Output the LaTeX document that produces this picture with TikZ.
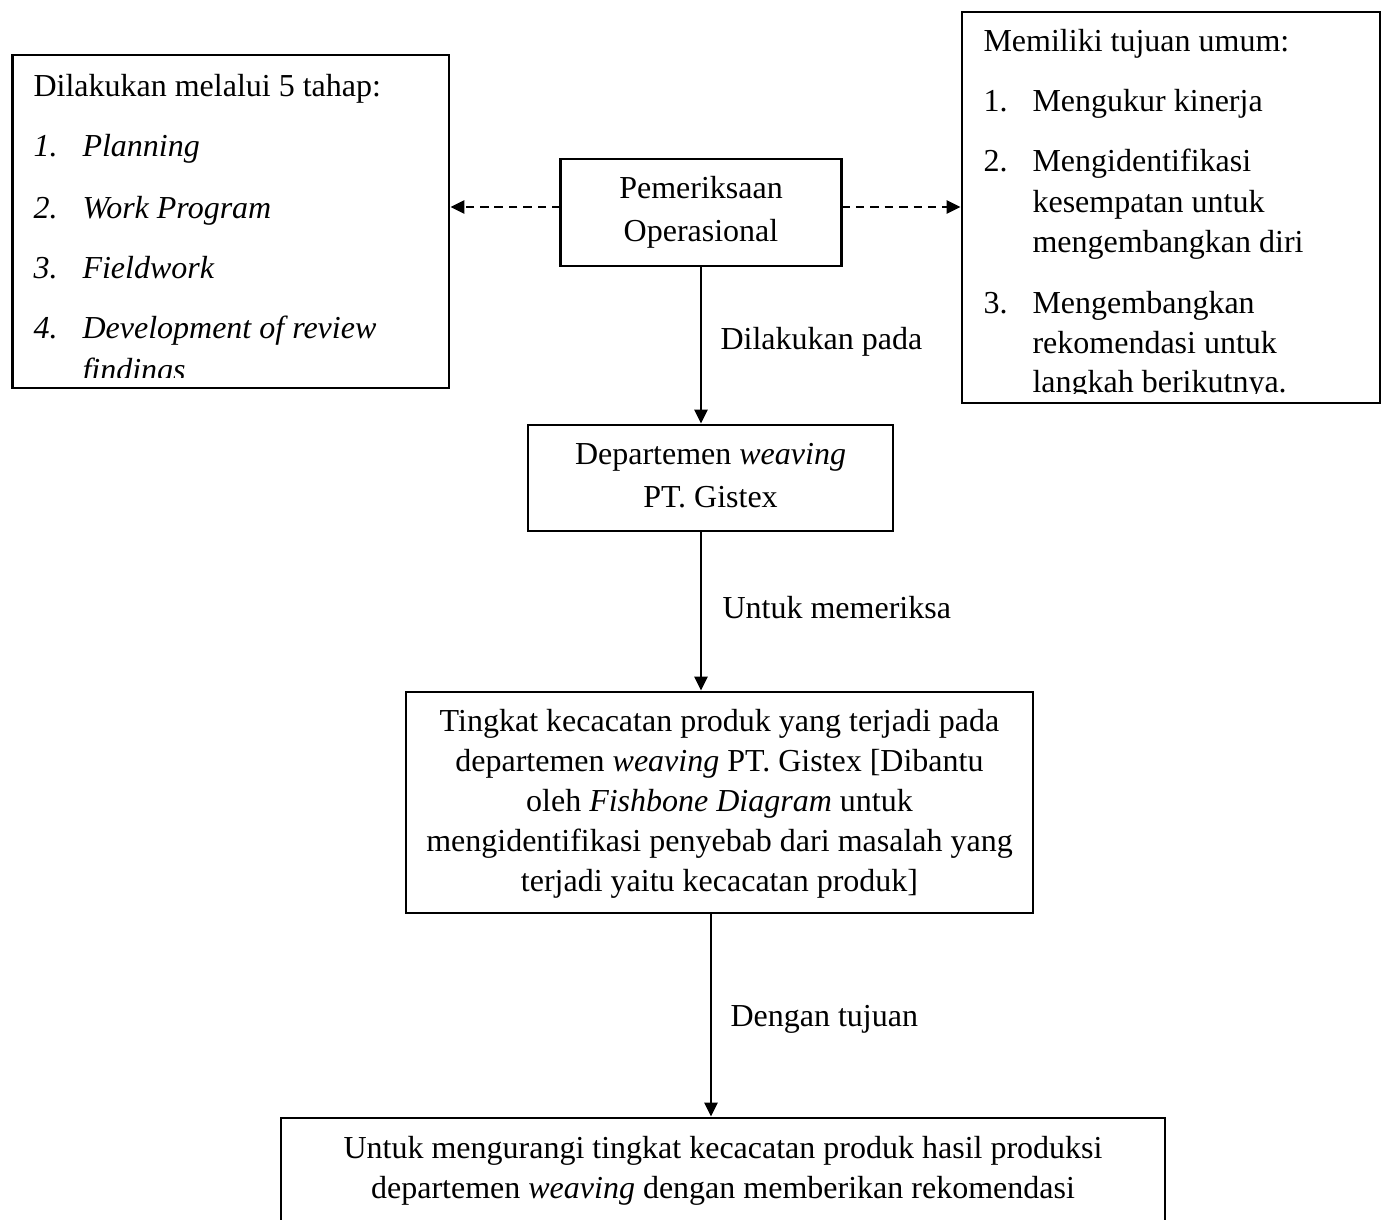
\documentclass[tikz,border=0pt]{standalone}
\usepackage{fontspec}
\setmainfont{Liberation Serif}
\usetikzlibrary{arrows.meta,fit,calc}
\begin{document}
\begin{tikzpicture}[x=0.375pt,y=-0.375pt,
  box/.style={draw, line width=1.1pt, inner sep=0pt},
  txt/.style={font=\fontsize{12}{15}\selectfont, inner sep=0pt, anchor=base west},
  ctxt/.style={font=\fontsize{12}{15}\selectfont, inner sep=0pt, anchor=base},
  conn/.style={line width=0.75pt, -{Triangle[length=5.2pt,width=4.9pt]}},
  dconn/.style={conn, dash pattern=on 3.2pt off 2.2pt},
]
\clip (0,0) rectangle (1381,1220);
\fill[white] (0,0) rectangle (1381,1220);

% boxes
\node[box, fit={(12.7,55) (449,388)}] (lb) {};
\node[box, fit={(962,12) (1380,403)}] (rb) {};
\node[box, fit={(560.5,159) (841.5,266)}] (cb) {};
\node[box, fit={(528,425) (893,531)}] (db) {};
\node[box, fit={(406,692) (1033,913)}] (tb) {};
\node[box, fit={(281,1118) (1165,1300)}] (bb) {};

% left box text (clipped)
\begin{scope}
\clip (12.7,55) rectangle (449,377);
\node[txt] (lt0) at (33,97) {Dilakukan melalui 5 tahap:};
\node[txt] (ln1) at (33,157) {\itshape 1.};
\node[txt] (lt1) at (82,157) {\itshape Planning};
\node[txt] (ln2) at (33,218) {\itshape 2.};
\node[txt] (lt2) at (82,218) {\itshape Work Program};
\node[txt] (ln3) at (33,279) {\itshape 3.};
\node[txt] (lt3) at (82,279) {\itshape Fieldwork};
\node[txt] (ln4) at (33,338) {\itshape 4.};
\node[txt] (lt4) at (82,338) {\itshape Development of review};
\node[txt] (lt5) at (82,380) {\itshape findings};
\end{scope}

% right box text (clipped)
\begin{scope}
\clip (962,12) rectangle (1380,393);
\node[txt] (rt0) at (983,52) {Memiliki tujuan umum:};
\node[txt] (rn1) at (983,112) {1.};
\node[txt] (rt1) at (1032,112) {Mengukur kinerja};
\node[txt] (rn2) at (983,172) {2.};
\node[txt] (rt2) at (1032,172) {Mengidentifikasi};
\node[txt] (rt3) at (1032,212) {kesempatan untuk};
\node[txt] (rt4) at (1032,252) {mengembangkan diri};
\node[txt] (rn3) at (983,313) {3.};
\node[txt] (rt5) at (1032,313) {Mengembangkan};
\node[txt] (rt6) at (1032,353) {rekomendasi untuk};
\node[txt] (rt7) at (1032,392) {langkah berikutnya.};
\end{scope}

% centre box text
\node[ctxt] (ct1) at (701,199) {Pemeriksaan};
\node[ctxt] (ct2) at (701,241) {Operasional};

% departemen box text
\node[ctxt] (dt1) at (710.5,464) {Departemen \textit{weaving}};
\node[ctxt] (dt2) at (710.5,507) {PT. Gistex};

% tingkat box text
\node[ctxt] (tt1) at (719.5,731) {Tingkat kecacatan produk yang terjadi pada};
\node[ctxt] (tt2) at (719.5,771) {departemen \textit{weaving} PT. Gistex [Dibantu};
\node[ctxt] (tt3) at (719.5,811) {oleh \textit{Fishbone Diagram} untuk};
\node[ctxt] (tt4) at (719.5,851) {mengidentifikasi penyebab dari masalah yang};
\node[ctxt] (tt5) at (719.5,891) {terjadi yaitu kecacatan produk]};

% bottom box text
\node[ctxt] (bt1) at (723,1158) {Untuk mengurangi tingkat kecacatan produk hasil produksi};
\node[ctxt] (bt2) at (723,1198) {departemen \textit{weaving} dengan memberikan rekomendasi};

% connectors
\coordinate (dl) at (560.5,207);
\coordinate (dr) at (841.5,207);
\draw[dconn] (dl) -- (dl -| lb.east);
\draw[dconn] (dr) -- (dr -| rb.west);
\draw[conn] (cb.south) -- (cb.south |- db.north);
\draw[conn] (db.south -| cb.south) -- (cb.south |- tb.north);
\coordinate (a3) at ($(tb.south)+(-8.5,0)$);
\draw[conn] (a3) -- (a3 |- bb.north);

% connector labels
\node[txt] (l1) at (720,349) {Dilakukan pada};
\node[txt] (l2) at (722,618) {Untuk memeriksa};
\node[txt] (l3) at (730,1026) {Dengan tujuan};
\end{tikzpicture}
\end{document}
